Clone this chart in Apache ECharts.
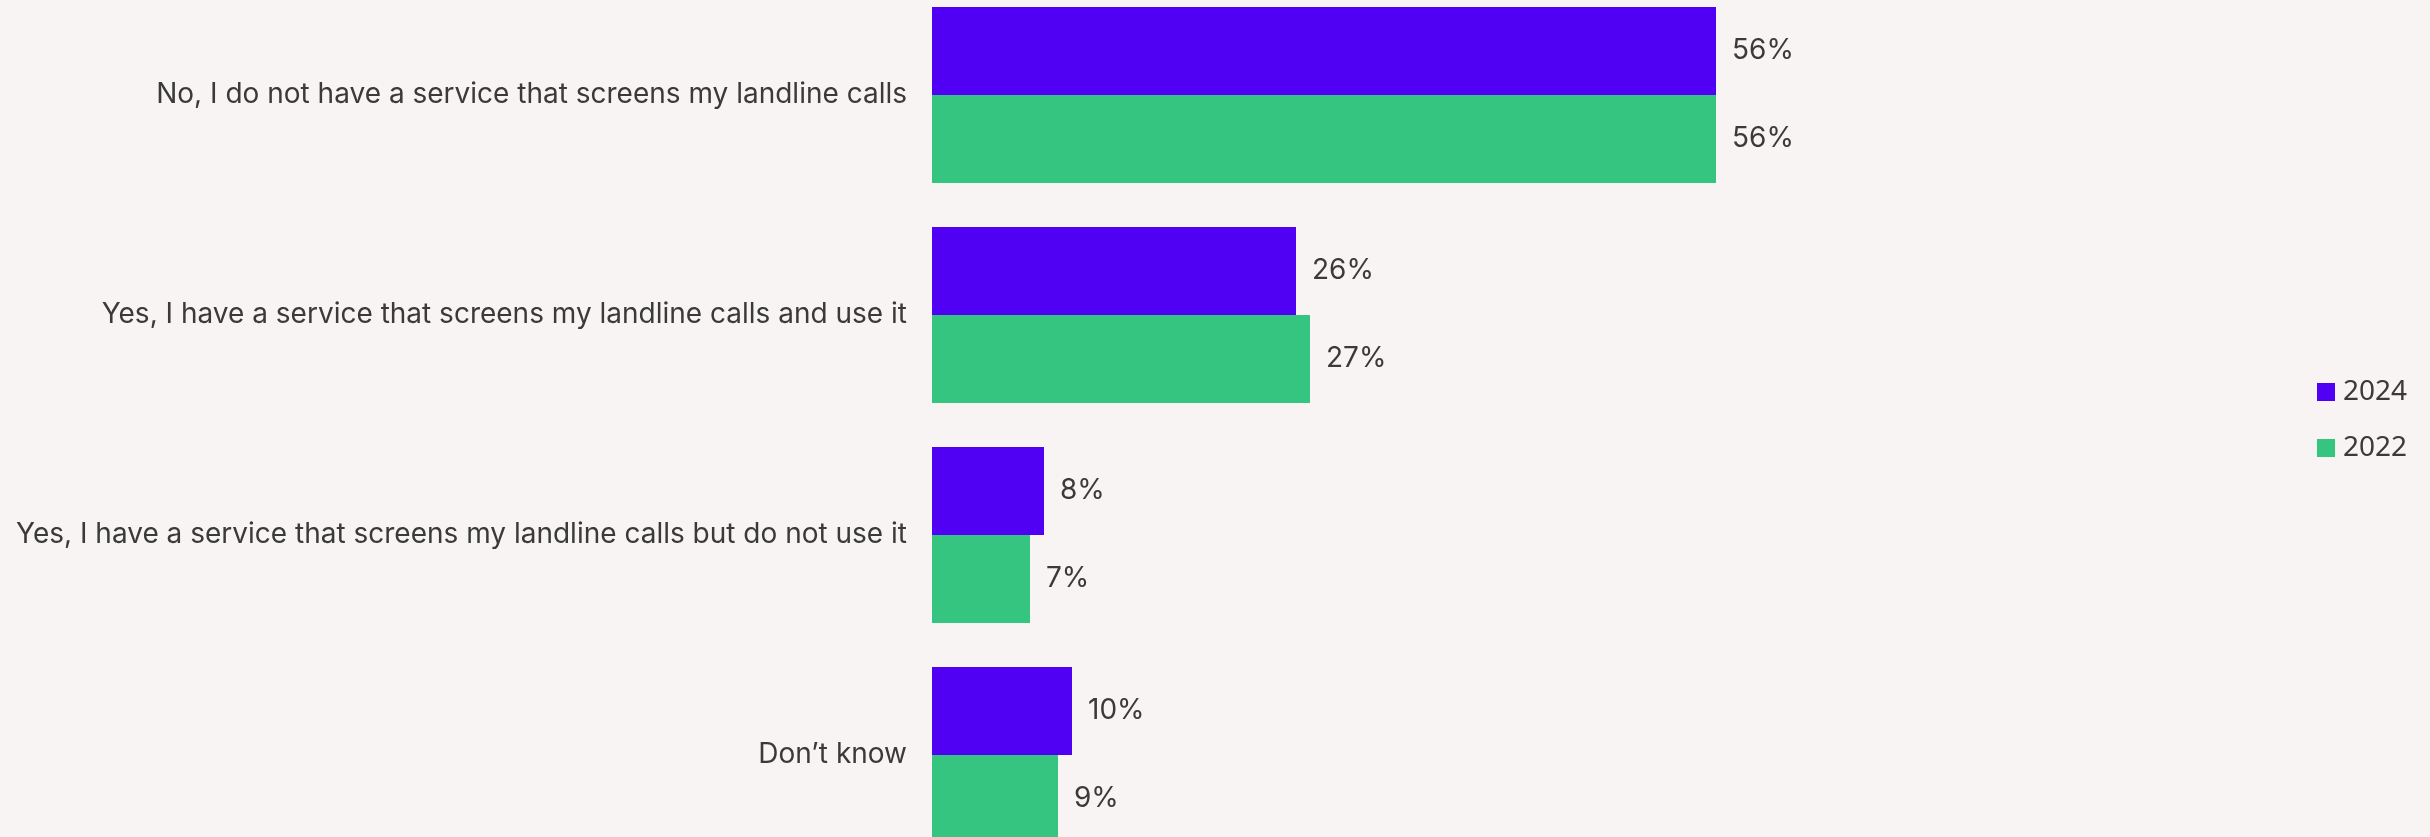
<!DOCTYPE html>
<html>
<head>
<meta charset="utf-8">
<script src="https://cdn.jsdelivr.net/npm/echarts@6/dist/echarts.min.js"></script>
<style>
html,body{margin:0;padding:0;background:#f8f4f3;overflow:hidden;width:2430px;height:837px;}
#chart{position:absolute;left:0;top:-15px;width:2430px;height:880px;}
</style>
</head>
<body>
<div id="chart"></div>
<script>
const categories = [
  "No, I do not have a service that screens my landline calls",
  "Yes, I have a service that screens my landline calls and use it",
  "Yes, I have a service that screens my landline calls but do not use it",
  "Don\u2019t know"
];
const seriesNames = ["2024", "2022"];
const values2024 = [56, 26, 8, 10];
const values2022 = [56, 27, 7, 9];

const chart = echarts.init(document.getElementById('chart'));
const labelStyle = {
  show: true,
  position: 'right',
  distance: 16,
  formatter: p => p.value + '%',
  color: '#3a3a3a',
  fontFamily: 'Inter',
  fontSize: 28
};
chart.setOption({
  backgroundColor: '#f8f4f3',
  animation: false,
  legend: {
    orient: 'vertical',
    left: 2317,
    top: 393,
    padding: 0,
    itemWidth: 18,
    itemHeight: 18,
    itemGap: 28,
    icon: 'rect',
    data: seriesNames,
    textStyle: {color: '#3a3a3a', fontFamily: 'Noto Sans', fontSize: 28, padding: [0,0,0,3]}
  },
  grid: {left: 932, right: 98, top: 0, bottom: 0, containLabel: false},
  xAxis: {
    type: 'value', min: 0, max: 100, show: false
  },
  yAxis: {
    type: 'category',
    data: categories,
    inverse: true,
    axisLine: {show: false},
    axisTick: {show: false},
    axisLabel: {
      margin: 25,
      color: '#3a3a3a',
      fontFamily: 'Inter',
      fontSize: 28
    }
  },
  series: [
    {
      name: seriesNames[0], type: 'bar', data: values2024,
      barGap: '0%', barCategoryGap: '20%',
      itemStyle: {color: '#5000f2'},
      label: labelStyle
    },
    {
      name: seriesNames[1], type: 'bar', data: values2022,
      barGap: '0%', barCategoryGap: '20%',
      itemStyle: {color: '#36c580'},
      label: labelStyle
    }
  ]
});
</script>
</body>
</html>
